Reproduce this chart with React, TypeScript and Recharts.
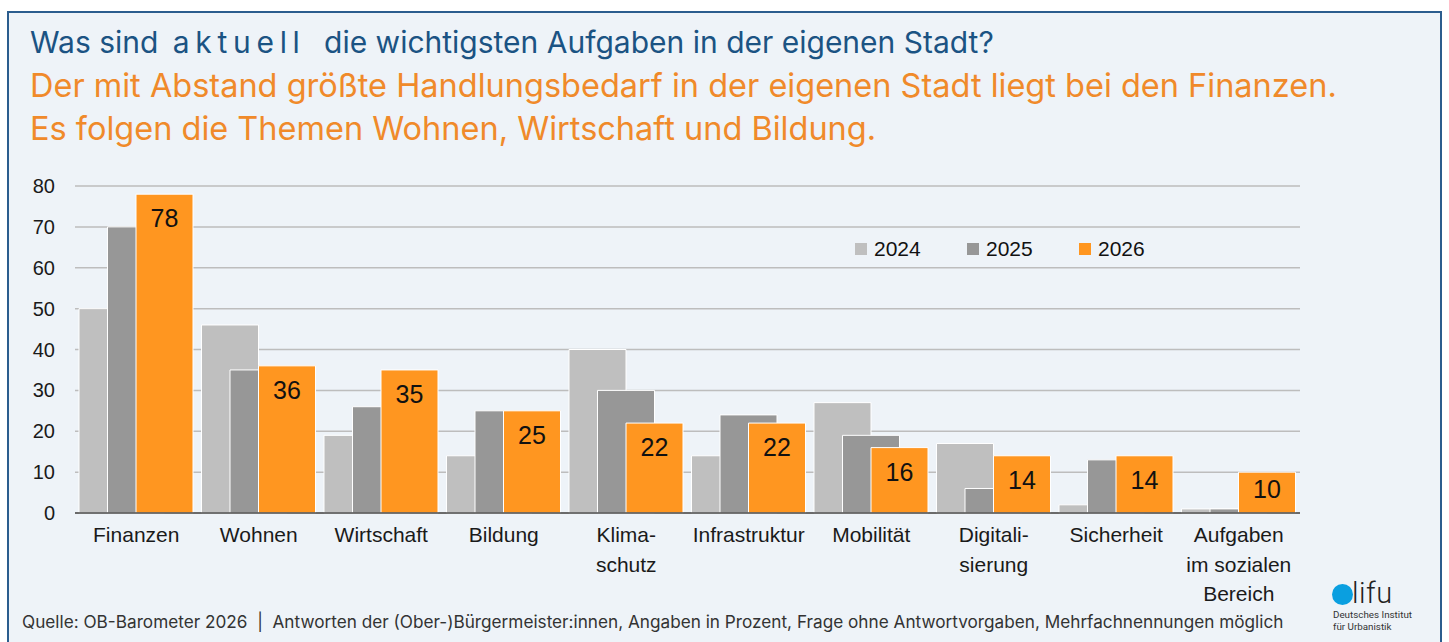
import React from 'react';
import { BarChart, Bar, XAxis, YAxis, CartesianGrid, LabelList, Legend } from 'recharts';

const categories = [
  'Finanzen',
  'Wohnen',
  'Wirtschaft',
  'Bildung',
  'Klima-\nschutz',
  'Infrastruktur',
  'Mobilität',
  'Digitali-\nsierung',
  'Sicherheit',
  'Aufgaben\nim sozialen\nBereich',
];
const values2024 = [50, 46, 19, 14, 40, 14, 27, 17, 2, 1];
const values2025 = [70, 35, 26, 25, 30, 24, 19, 6, 13, 1];
const values2026 = [78, 36, 35, 25, 22, 22, 16, 14, 14, 10];
const yTicks = [0, 10, 20, 30, 40, 50, 60, 70, 80];
const seriesYears = ['2024', '2025', '2026'];
const seriesColors = ['#bfbfbf', '#979797', '#ff9620'];

const data = categories.map((c, i) => ({
  name: c,
  y2024: values2024[i],
  y2025: values2025[i],
  y2026: values2026[i],
}));

const chartFont = '"Liberation Sans", Arial, sans-serif';
const textFont = 'Inter, Roboto, "Noto Sans", sans-serif';

const CatTick = (props: any) => {
  const { x, y, payload } = props;
  const lines = String(payload.value).split('\n');
  return (
    <text x={x} y={y} textAnchor="middle" fontFamily={chartFont} fontSize={21} fill="#1a1a1a">
      {lines.map((l, i) => (
        <tspan key={i} x={x} dy={i === 0 ? 29 : 29.5}>
          {l}
        </tspan>
      ))}
    </text>
  );
};

const renderLabel = (props: any) => {
  const { x, y, width, height, value } = props;
  const center = height > 50 ? 24 : 17;
  return (
    <text
      x={Number(x) + Number(width) / 2}
      y={Number(y) + center + 9}
      textAnchor="middle"
      fontFamily={chartFont}
      fontSize={25}
      fill="#111"
    >
      {value}
    </text>
  );
};

const LegendContent = () => (
  <div style={{ display: 'flex', fontFamily: chartFont, fontSize: 21, color: '#111' }}>
    {seriesYears.map((yr, i) => (
      <div key={yr} style={{ width: 112, display: 'flex', alignItems: 'center' }}>
        <span
          style={{
            display: 'inline-block',
            width: 12,
            height: 12,
            background: seriesColors[i],
            marginRight: 7,
          }}
        />
        <span>{yr}</span>
      </div>
    ))}
  </div>
);

const lineStyle: React.CSSProperties = {
  position: 'absolute',
  left: 30,
  fontFamily: textFont,
  lineHeight: '43px',
  whiteSpace: 'nowrap',
};

export default function App() {
  return (
    <div
      style={{
        position: 'absolute',
        left: 0,
        top: 0,
        width: 1449,
        height: 642,
        overflow: 'hidden',
        background: '#ffffff',
      }}
    >
      <div
        style={{
          position: 'absolute',
          left: 7,
          top: 11,
          width: 1431,
          height: 660,
          background: '#eef3f8',
          border: '2px solid #2b5d8e',
        }}
      />
      <div style={{ ...lineStyle, top: 21, fontSize: 30, color: '#1b5383' }}>
        Was sind <span style={{ letterSpacing: 5.7, marginLeft: 6 }}>aktuell</span>
        <span style={{ marginLeft: 10 }}> die wichtigsten Aufgaben in der eigenen Stadt?</span>
      </div>
      <div style={{ ...lineStyle, top: 64, fontSize: 32.5, color: '#f08a2a' }}>
        Der mit Abstand größte Handlungsbedarf in der eigenen Stadt liegt bei den Finanzen.
      </div>
      <div style={{ ...lineStyle, top: 107, fontSize: 32.5, color: '#f08a2a' }}>
        Es folgen die Themen Wohnen, Wirtschaft und Bildung.
      </div>

      <div style={{ position: 'absolute', left: 0, top: 0 }}>
        <BarChart
          width={1449}
          height={642}
          data={data}
          margin={{ top: 186, right: 149, bottom: 29, left: 15 }}
          barSize={57}
          barGap={-28.5}
        >
          <CartesianGrid vertical={false} stroke="#bdbdbd" strokeWidth={1.5} />
          <XAxis
            dataKey="name"
            height={100}
            tickLine={false}
            tickSize={0}
            tickMargin={0}
            interval={0}
            axisLine={{ stroke: '#4a4a4a', strokeWidth: 1.5 }}
            tick={<CatTick />}
          />
          <YAxis
            width={60}
            domain={[0, 80]}
            ticks={yTicks}
            interval={0}
            axisLine={false}
            tickLine={false}
            tickSize={0}
            tickMargin={20}
            tick={{ fontFamily: chartFont, fontSize: 20, fill: '#1a1a1a' }}
          />
          <Legend
            layout="horizontal"
            verticalAlign="middle"
            align="center"
            content={<LegendContent />}
            wrapperStyle={{ position: 'absolute', top: 237, left: 855, width: 340 }}
          />
          <Bar dataKey="y2024" name="2024" fill={seriesColors[0]} stroke="#ffffff" strokeWidth={1} isAnimationActive={false} />
          <Bar dataKey="y2025" name="2025" fill={seriesColors[1]} stroke="#ffffff" strokeWidth={1} isAnimationActive={false} />
          <Bar dataKey="y2026" name="2026" fill={seriesColors[2]} stroke="#ffffff" strokeWidth={1} isAnimationActive={false}>
            <LabelList dataKey="y2026" content={renderLabel} />
          </Bar>
        </BarChart>
      </div>

      <div
        style={{
          position: 'absolute',
          left: 22,
          top: 611,
          fontFamily: textFont,
          fontSize: 17.2,
          color: '#333',
          whiteSpace: 'nowrap',
        }}
      >
        Quelle: OB-Barometer 2026&nbsp;&nbsp;|&nbsp;&nbsp;Antworten der (Ober-)Bürgermeister:innen, Angaben in Prozent, Frage ohne Antwortvorgaben, Mehrfachnennungen möglich
      </div>

      <div
        style={{
          position: 'absolute',
          left: 1332,
          top: 584,
          width: 21,
          height: 21,
          borderRadius: '50%',
          background: '#0a9fe0',
        }}
      />
      <div
        style={{
          position: 'absolute',
          left: 1352,
          top: 575,
          fontFamily: 'Roboto, sans-serif',
          fontWeight: 300,
          fontSize: 29,
          lineHeight: '36px',
          color: '#222',
          letterSpacing: 0.5,
        }}
      >
        lifu
      </div>
      <div
        style={{
          position: 'absolute',
          left: 1333,
          top: 609,
          fontFamily: 'Roboto, sans-serif',
          fontSize: 9.8,
          lineHeight: '12px',
          color: '#333',
          whiteSpace: 'nowrap',
        }}
      >
        <div>Deutsches Institut</div>
        <div>für Urbanistik</div>
      </div>
    </div>
  );
}
